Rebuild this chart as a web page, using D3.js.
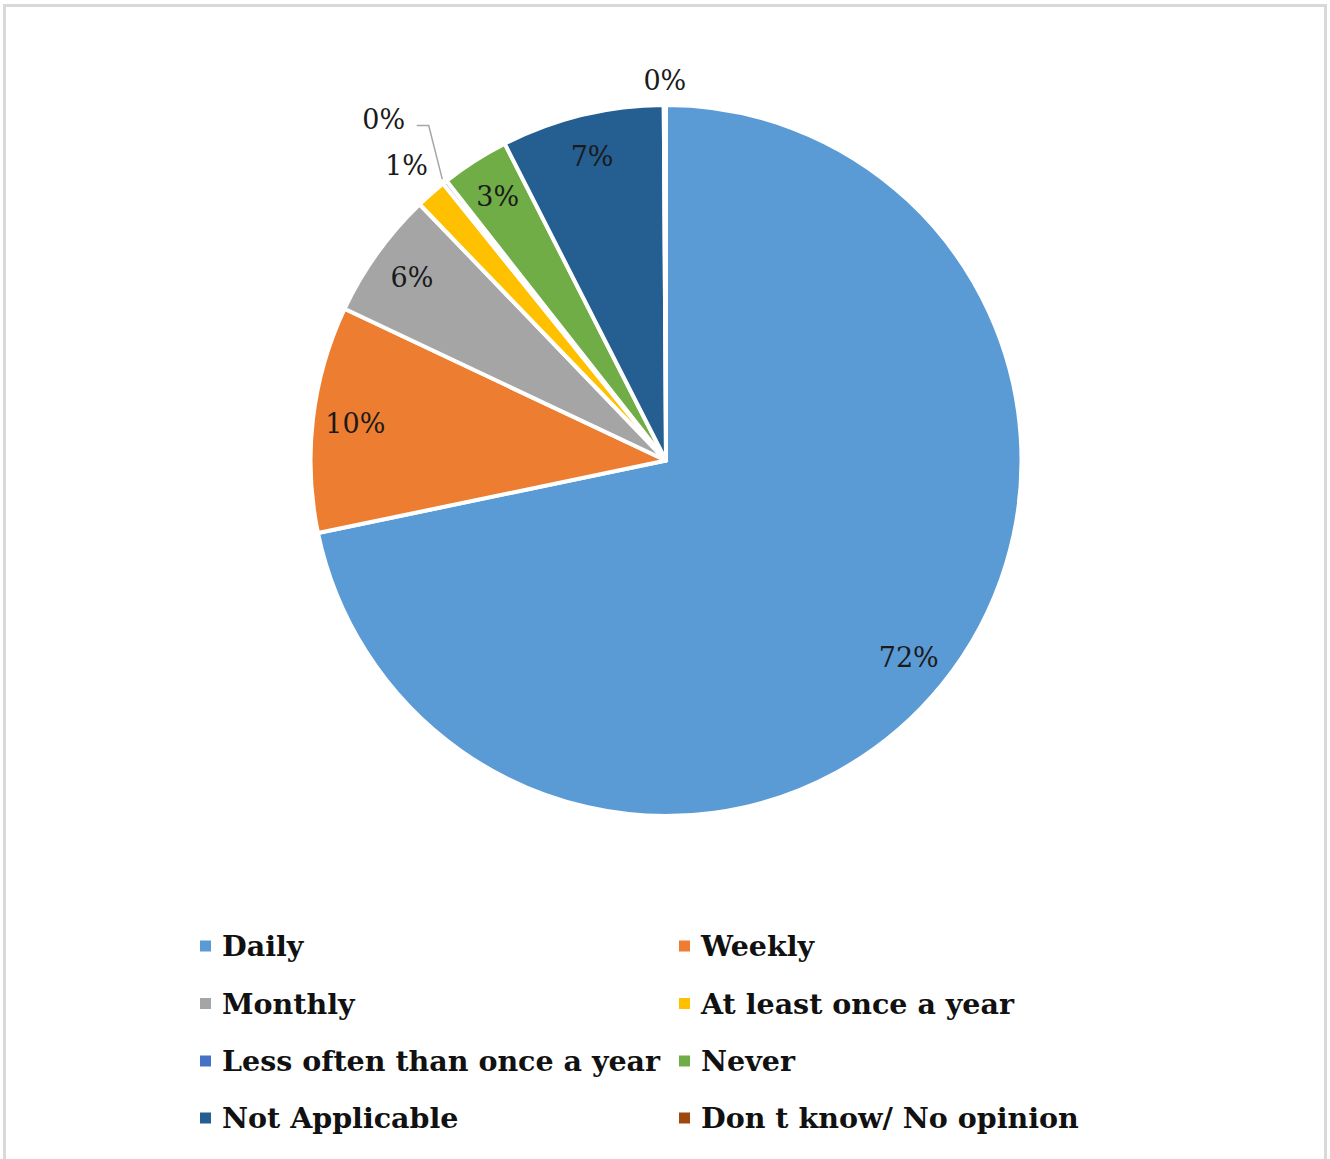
<!DOCTYPE html>
<html>
<head>
<meta charset="utf-8">
<script src="https://cdn.jsdelivr.net/npm/d3@7/dist/d3.min.js"></script>
<style>
  html, body { margin: 0; padding: 0; background: #ffffff; }
  svg { display: block; }
</style>
</head>
<body>
<svg id="chart" width="1330" height="1159"></svg>
<script>
// Response categories, in drawing order (clockwise from 12 o'clock)
const categories = [
  "Daily",
  "Weekly",
  "Monthly",
  "At least once a year",
  "Less often than once a year",
  "Never",
  "Not Applicable",
  "Don t know/ No opinion"
];
// Share of respondents (%)
const shares = [71.8, 10.3, 5.8, 1.4, 0.2, 3.1, 7.4, 0.1];
const colors = ["#5B9BD5", "#ED7D31", "#A5A5A5", "#FFC000", "#4472C4", "#70AD47", "#255E91", "#9E480E"];
// Legend layout: two columns, filled row by row
const legendOrder = [0, 1, 2, 3, 4, 5, 6, 7];

const svg = d3.select("#chart");
const W = 1330, H = 1159;

// chart frame
svg.append("rect")
  .attr("x", 4.5).attr("y", 5.5)
  .attr("width", W - 9).attr("height", H + 10)
  .attr("fill", "#ffffff")
  .attr("stroke", "#d9d9d9")
  .attr("stroke-width", 3);

const cx = 666, cy = 460.5, R = 355.5;
const total = d3.sum(shares);
const pct = v => Math.round(v / total * 100) + "%";

const pie = d3.pie().sort(null).value(d => d.value);
const data = categories.map((c, i) => ({ name: c, value: shares[i], color: colors[i], i }));
const arcs = pie(data);

const arc = d3.arc().innerRadius(0).outerRadius(R);
const g = svg.append("g").attr("transform", `translate(${cx},${cy})`);

g.selectAll("path.slice")
  .data(arcs)
  .join("path")
  .attr("class", "slice")
  .attr("d", arc)
  .attr("fill", d => d.data.color)
  .attr("stroke", "#ffffff")
  .attr("stroke-width", 4)
  .attr("stroke-linejoin", "round");

// polar helper: angle measured clockwise from 12 o'clock
const polar = (a, r) => [r * Math.sin(a), -r * Math.cos(a)];
const mid = d => (d.startAngle + d.endAngle) / 2;

const labelFont = "'DejaVu Serif', Georgia, serif";

// labels: big slices inside, thin slices outside
const labelSpec = arcs.map(d => {
  const share = d.data.value / total;
  if (share >= 0.02) return { d, r: R * 0.88, a: mid(d), leader: false };
  return { d, r: null, a: mid(d), leader: false };
});
// outside placements for the thin slices
labelSpec[3].r = R * 1.105;                       // At least once a year
labelSpec[4].r = R * 1.245; labelSpec[4].a = mid(arcs[4]) - 0.02; labelSpec[4].leader = true; // Less often
labelSpec[7].r = R * 1.07;                        // Don't know

g.selectAll("text.val")
  .data(labelSpec)
  .join("text")
  .attr("class", "val")
  .attr("x", s => polar(s.a, s.r)[0])
  .attr("y", s => polar(s.a, s.r)[1])
  .attr("text-anchor", "middle")
  .attr("dominant-baseline", "central")
  .attr("font-family", labelFont)
  .attr("font-size", 27)
  .attr("fill", "#1a1a1a")
  .text(s => pct(s.d.data.value));

// leader line for the label moved away from its slice
labelSpec.filter(s => s.leader).forEach(s => {
  const [lx, ly] = polar(s.a, s.r);
  const [px, py] = polar(mid(s.d), R + 4);
  const sx = lx + 33, sy = ly + 6;
  const ex = sx + 12;
  g.append("polyline")
    .attr("points", [[sx, sy], [ex, sy], [px, py]].map(p => p.join(",")).join(" "))
    .attr("fill", "none")
    .attr("stroke", "#a6a6a6")
    .attr("stroke-width", 1.5);
});

// legend
const legendFont = "'DejaVu Serif', Georgia, serif";
const colX = [200, 679];
const rowY = [946, 1003.5, 1061, 1118];
const legend = svg.append("g");
legendOrder.forEach((idx, k) => {
  const col = k % 2, row = Math.floor(k / 2);
  const item = legend.append("g")
    .attr("transform", `translate(${colX[col]},${rowY[row]})`);
  item.append("rect")
    .attr("x", 0).attr("y", -5.5)
    .attr("width", 11).attr("height", 11)
    .attr("fill", colors[idx]);
  item.append("text")
    .attr("x", 22).attr("y", 0)
    .attr("dominant-baseline", "central")
    .attr("font-family", legendFont)
    .attr("font-weight", "bold")
    .attr("font-size", 28.5)
    .attr("fill", "#111111")
    .text(categories[idx]);
});
</script>
</body>
</html>
